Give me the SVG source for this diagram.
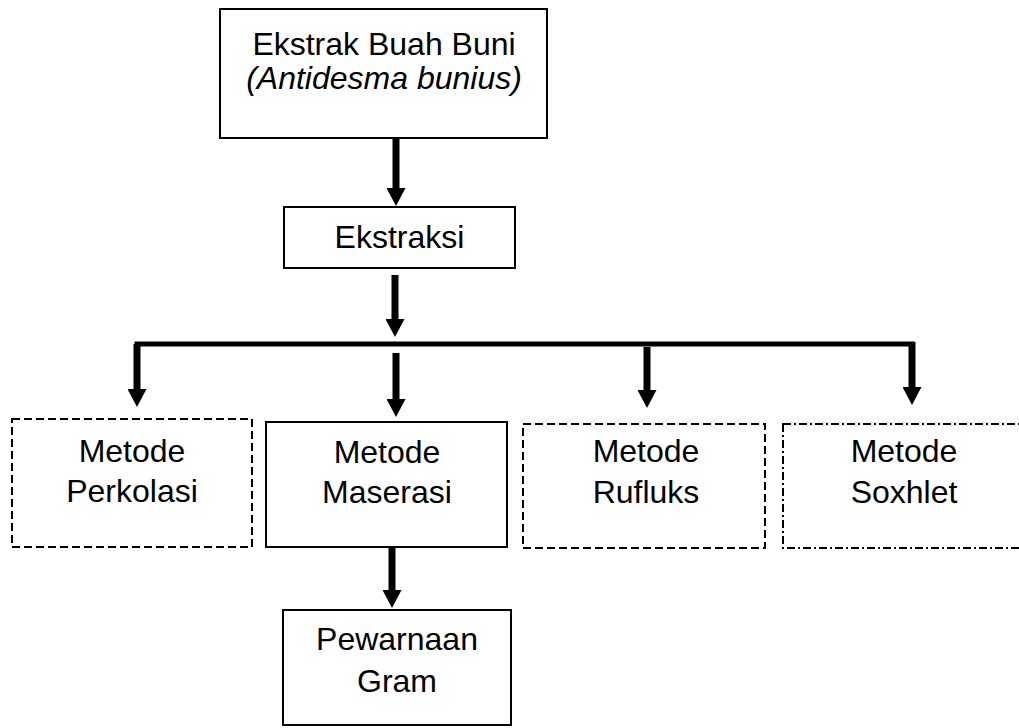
<svg xmlns="http://www.w3.org/2000/svg" width="1019" height="728" viewBox="0 0 1019 728">
  <style>
    .box { fill: #ffffff; stroke: #000000; stroke-width: 2; }
    .dash { stroke-dasharray: 8 4; }
    .dashdot { stroke-dasharray: 8 3 2 3; }
    .lbl { font-family: "Liberation Sans", Arial, sans-serif; font-size: 32px; fill: #000000; text-anchor: middle; }
    .it { font-style: italic; }
    .conn { stroke: #000000; stroke-width: 7; fill: none; }
    .bar { stroke: #000000; stroke-width: 5; fill: none; }
  </style>
  <defs>
    <marker id="ah" markerUnits="userSpaceOnUse" viewBox="0 0 18 19" markerWidth="18" markerHeight="19" refX="0" refY="9.5" orient="auto">
      <path d="M0,0 L18,9.5 L0,19 z" fill="#000000"/>
    </marker>
  </defs>
  <rect x="0" y="0" width="1019" height="728" fill="#ffffff"/>

  <g id="connectors">
    <line class="conn" x1="396" y1="138" x2="396" y2="188" marker-end="url(#ah)"/>
    <line class="conn" x1="395" y1="275" x2="395" y2="319" marker-end="url(#ah)"/>
    <polyline class="bar" points="137,390 137,344 912,344 912,390"/>
    <line class="conn" x1="137" y1="344" x2="137" y2="389" marker-end="url(#ah)"/>
    <line class="conn" x1="396" y1="353" x2="396" y2="399" marker-end="url(#ah)"/>
    <line class="conn" x1="647" y1="347" x2="647" y2="390" marker-end="url(#ah)"/>
    <line class="conn" x1="912" y1="342" x2="912" y2="387" marker-end="url(#ah)"/>
    <line class="conn" x1="392" y1="547" x2="392" y2="590" marker-end="url(#ah)"/>
  </g>

  <g id="node-ekstrak-buah-buni">
    <rect class="box" x="220" y="9" width="327" height="129"/>
    <text class="lbl" x="384" y="55">Ekstrak Buah Buni</text>
    <text class="lbl it" x="384" y="89">(Antidesma bunius)</text>
  </g>

  <g id="node-ekstraksi">
    <rect class="box" x="284" y="207" width="231" height="61"/>
    <text class="lbl" x="399.5" y="248">Ekstraksi</text>
  </g>

  <g id="node-perkolasi">
    <rect class="box dash" x="12" y="419" width="240" height="128"/>
    <text class="lbl" x="132" y="462">Metode</text>
    <text class="lbl" x="132" y="502">Perkolasi</text>
  </g>

  <g id="node-maserasi">
    <rect class="box" x="266" y="422" width="241" height="125"/>
    <text class="lbl" x="387" y="463">Metode</text>
    <text class="lbl" x="387" y="503">Maserasi</text>
  </g>

  <g id="node-rufluks">
    <rect class="box dash" x="523" y="424" width="242" height="124"/>
    <text class="lbl" x="646" y="462">Metode</text>
    <text class="lbl" x="646" y="503">Rufluks</text>
  </g>

  <g id="node-soxhlet">
    <rect class="box dashdot" x="783" y="424" width="240" height="124"/>
    <text class="lbl" x="904" y="462">Metode</text>
    <text class="lbl" x="904" y="503">Soxhlet</text>
  </g>

  <g id="node-pewarnaan-gram">
    <rect class="box" x="283" y="610" width="228" height="115"/>
    <text class="lbl" x="397" y="650">Pewarnaan</text>
    <text class="lbl" x="397" y="692">Gram</text>
  </g>
</svg>
